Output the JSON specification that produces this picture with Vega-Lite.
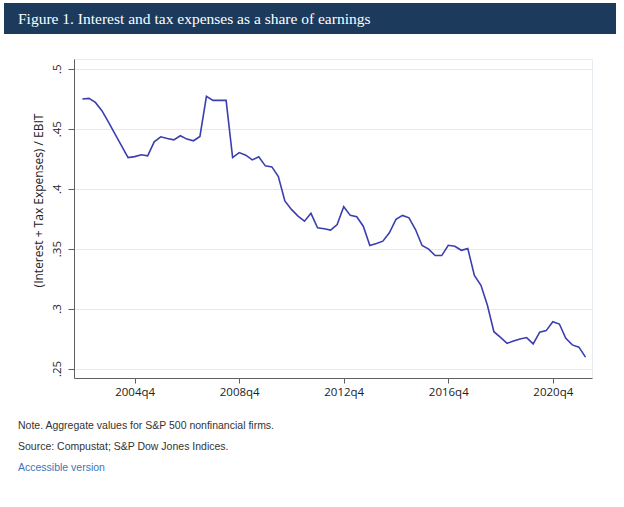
{
  "$schema": "https://vega.github.io/schema/vega-lite/v6.json",
  "background": "white",
  "padding": {"left": 4, "top": 3, "right": 4, "bottom": 4},
  "config": {"view": {"stroke": null}, "font": "Open Sans"},
  "datasets": {
    "series": [
      {"date": "2002-10-01", "value": 0.4748},
      {"date": "2003-01-01", "value": 0.4753},
      {"date": "2003-04-01", "value": 0.4719},
      {"date": "2003-07-01", "value": 0.4650},
      {"date": "2003-10-01", "value": 0.4555},
      {"date": "2004-01-01", "value": 0.4455},
      {"date": "2004-04-01", "value": 0.4357},
      {"date": "2004-07-01", "value": 0.4259},
      {"date": "2004-10-01", "value": 0.4267},
      {"date": "2005-01-01", "value": 0.4282},
      {"date": "2005-04-01", "value": 0.4273},
      {"date": "2005-07-01", "value": 0.4390},
      {"date": "2005-10-01", "value": 0.4432},
      {"date": "2006-01-01", "value": 0.4418},
      {"date": "2006-04-01", "value": 0.4407},
      {"date": "2006-07-01", "value": 0.4441},
      {"date": "2006-10-01", "value": 0.4413},
      {"date": "2007-01-01", "value": 0.4399},
      {"date": "2007-04-01", "value": 0.4435},
      {"date": "2007-07-01", "value": 0.4770},
      {"date": "2007-10-01", "value": 0.4736},
      {"date": "2008-01-01", "value": 0.4736},
      {"date": "2008-04-01", "value": 0.4736},
      {"date": "2008-07-01", "value": 0.4259},
      {"date": "2008-10-01", "value": 0.4301},
      {"date": "2009-01-01", "value": 0.4279},
      {"date": "2009-04-01", "value": 0.4240},
      {"date": "2009-07-01", "value": 0.4265},
      {"date": "2009-10-01", "value": 0.4190},
      {"date": "2010-01-01", "value": 0.4181},
      {"date": "2010-04-01", "value": 0.4100},
      {"date": "2010-07-01", "value": 0.3897},
      {"date": "2010-10-01", "value": 0.3827},
      {"date": "2011-01-01", "value": 0.3771},
      {"date": "2011-04-01", "value": 0.3729},
      {"date": "2011-07-01", "value": 0.3794},
      {"date": "2011-10-01", "value": 0.3673},
      {"date": "2012-01-01", "value": 0.3665},
      {"date": "2012-04-01", "value": 0.3654},
      {"date": "2012-07-01", "value": 0.3700},
      {"date": "2012-10-01", "value": 0.3849},
      {"date": "2013-01-01", "value": 0.3777},
      {"date": "2013-04-01", "value": 0.3765},
      {"date": "2013-07-01", "value": 0.3687},
      {"date": "2013-10-01", "value": 0.3526},
      {"date": "2014-01-01", "value": 0.3543},
      {"date": "2014-04-01", "value": 0.3562},
      {"date": "2014-07-01", "value": 0.3632},
      {"date": "2014-10-01", "value": 0.3744},
      {"date": "2015-01-01", "value": 0.3777},
      {"date": "2015-04-01", "value": 0.3757},
      {"date": "2015-07-01", "value": 0.3659},
      {"date": "2015-10-01", "value": 0.3526},
      {"date": "2016-01-01", "value": 0.3496},
      {"date": "2016-04-01", "value": 0.3442},
      {"date": "2016-07-01", "value": 0.3442},
      {"date": "2016-10-01", "value": 0.3528},
      {"date": "2017-01-01", "value": 0.3520},
      {"date": "2017-04-01", "value": 0.3486},
      {"date": "2017-07-01", "value": 0.3500},
      {"date": "2017-10-01", "value": 0.3277},
      {"date": "2018-01-01", "value": 0.3194},
      {"date": "2018-04-01", "value": 0.3027},
      {"date": "2018-07-01", "value": 0.2807},
      {"date": "2018-10-01", "value": 0.2760},
      {"date": "2019-01-01", "value": 0.2710},
      {"date": "2019-04-01", "value": 0.2730},
      {"date": "2019-07-01", "value": 0.2747},
      {"date": "2019-10-01", "value": 0.2758},
      {"date": "2020-01-01", "value": 0.2705},
      {"date": "2020-04-01", "value": 0.2803},
      {"date": "2020-07-01", "value": 0.2816},
      {"date": "2020-10-01", "value": 0.2890},
      {"date": "2021-01-01", "value": 0.2871},
      {"date": "2021-04-01", "value": 0.2752},
      {"date": "2021-07-01", "value": 0.2697},
      {"date": "2021-10-01", "value": 0.2678},
      {"date": "2022-01-01", "value": 0.2595}
    ]
  },
  "spacing": 24,
  "vconcat": [
    {
      "width": 612,
      "height": 31,
      "view": {"fill": "#1b3a5c", "stroke": null},
      "data": {"values": [{"title": "Figure 1. Interest and tax expenses as a share of earnings"}]},
      "mark": {"type": "text", "align": "left", "baseline": "middle", "font": "Liberation Serif", "fontSize": 15.5, "color": "#ffffff", "dx": 14},
      "encoding": {
        "text": {"field": "title"},
        "x": {"datum": 0, "type": "quantitative", "scale": {"domain": [0, 1]}, "axis": null}
      }
    },
    {
      "spacing": 23,
      "vconcat": [
        {
          "spacing": 26,
          "hconcat": [
            {
              "width": 1,
              "height": 1,
              "data": {"values": []},
              "mark": "point"
            },
            {
              "width": 518,
              "height": 319,
              "view": {"stroke": "#e6ecef"},
              "data": {"name": "series"},
              "mark": {"type": "line", "color": "#3b3fae", "strokeWidth": 1.6},
              "encoding": {
                "x": {
                  "field": "date",
                  "type": "temporal",
                  "scale": {"type": "utc", "domain": [{"year": 2002, "month": 6, "date": 6, "utc": true}, {"year": 2022, "month": 4, "date": 2, "utc": true}]},
                  "axis": {
                    "title": null,
                    "values": [
                      {"year": 2004, "month": 10, "date": 1, "utc": true},
                      {"year": 2008, "month": 10, "date": 1, "utc": true},
                      {"year": 2012, "month": 10, "date": 1, "utc": true},
                      {"year": 2016, "month": 10, "date": 1, "utc": true},
                      {"year": 2020, "month": 10, "date": 1, "utc": true}
                    ],
                    "labelExpr": "utcFormat(datum.value, '%Y') + 'q' + (floor(utcmonth(datum.value) / 3) + 1)",
                    "grid": false,
                    "tickSize": 5,
                    "labelPadding": 3,
                    "labelFlush": false,
                    "labelFont": "Open Sans",
                    "labelFontSize": 11.5,
                    "labelColor": "#222222",
                    "domainColor": "#5f5f5f",
                    "tickColor": "#5f5f5f"
                  }
                },
                "y": {
                  "field": "value",
                  "type": "quantitative",
                  "scale": {"domain": [0.2421, 0.5081], "zero": false, "nice": false},
                  "axis": {
                    "title": "(Interest + Tax Expenses) / EBIT",
                    "values": [0.25, 0.3, 0.35, 0.4, 0.45, 0.5],
                    "labelExpr": "replace(format(datum.value, '.2~f'), '0.', '.')",
                    "labelAngle": -90,
                    "labelAlign": "center",
                    "labelBaseline": "bottom",
                    "labelPadding": 6,
                    "tickSize": 6,
                    "labelFont": "Open Sans",
                    "labelFontSize": 11.5,
                    "labelColor": "#222222",
                    "domainColor": "#5f5f5f",
                    "tickColor": "#5f5f5f",
                    "grid": true,
                    "gridColor": "#e3eaee",
                    "titleFont": "Open Sans",
                    "titleFontSize": 12,
                    "titleFontWeight": "normal",
                    "titleColor": "#222222",
                    "titlePadding": 6,
                    "titleY": 141
                  }
                }
              }
            }
          ]
        },
        {
          "width": 584,
          "height": 42,
          "data": {"values": [
            {"line": "note", "text": "Note. Aggregate values for S&P 500 nonfinancial firms."},
            {"line": "source", "text": "Source: Compustat; S&P Dow Jones Indices."},
            {"line": "link", "text": "Accessible version"}
          ]},
          "mark": {"type": "text", "align": "left", "baseline": "middle", "font": "Liberation Sans", "fontSize": 10.5, "dx": 14},
          "encoding": {
            "text": {"field": "text"},
            "x": {"datum": 0, "type": "quantitative", "scale": {"domain": [0, 1]}, "axis": null},
            "y": {"field": "line", "type": "ordinal", "scale": {"type": "point", "domain": ["note", "source", "link"], "padding": 0}, "axis": null},
            "color": {"condition": {"test": "datum.line === 'link'", "value": "#3f74b5"}, "value": "#333333"}
          }
        }
      ]
    }
  ]
}
